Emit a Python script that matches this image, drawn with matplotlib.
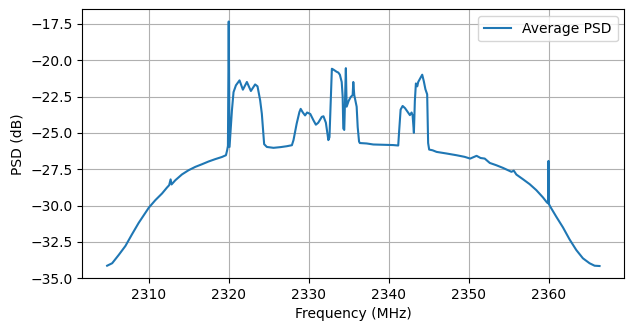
import matplotlib
matplotlib.use('Agg')
from matplotlib import pyplot as plt

# frequency (MHz) and average PSD (dB)
freq = [2304.79, 2305.42, 2306.24, 2307.08, 2307.9, 2308.74, 2309.57, 2310.0, 2310.82,
        2311.66, 2312.28, 2312.55, 2312.73, 2312.85, 2313.32, 2314.15, 2314.98, 2315.82,
        2316.65, 2317.48, 2318.3, 2319.15, 2319.65, 2319.8,
        2319.9, 2320.0, 2320.1, 2320.4, 2320.6, 2320.9, 2321.35, 2321.77,
        2322.27, 2322.77, 2323.3, 2323.6, 2323.93, 2324.14, 2324.43, 2324.77, 2325.6,
        2326.5, 2327.26, 2327.9, 2328.1, 2328.5, 2328.84, 2329.0, 2329.27, 2329.55,
        2329.8, 2330.2, 2330.6, 2330.9, 2331.2, 2331.64, 2331.85, 2332.15, 2332.46,
        2332.6, 2332.76, 2332.9, 2333.1, 2333.5, 2333.7, 2333.9, 2334.13, 2334.25,
        2334.33, 2334.45, 2334.55, 2334.65, 2334.75, 2335.0, 2335.25, 2335.5, 2335.58,
        2335.7, 2336.0, 2336.13, 2336.3, 2336.4, 2337.25, 2338.08, 2339.3, 2340.57,
        2341.2, 2341.3, 2341.5, 2341.75, 2342.05, 2342.3, 2342.66, 2342.87, 2343.0,
        2343.16, 2343.28, 2343.41, 2343.58, 2343.7, 2344.0, 2344.2, 2344.4, 2344.6,
        2344.82, 2344.94, 2345.07, 2345.5, 2346.0, 2347.24, 2348.5, 2349.5, 2350.2,
        2350.5, 2351.0, 2351.5, 2352.02, 2352.65, 2353.48, 2354.3, 2355.36, 2355.65,
        2355.98, 2356.8, 2357.64, 2358.47, 2359.3, 2359.8, 2359.95, 2360.0, 2360.05,
        2360.22, 2360.97, 2361.8, 2362.63, 2363.47, 2364.3, 2365.13, 2365.76, 2366.38]
psd = [-34.14, -33.97, -33.4, -32.78, -31.98, -31.19, -30.5, -30.15, -29.63,
       -29.17, -28.76, -28.6, -28.2, -28.55, -28.26, -27.86, -27.57, -27.34,
       -27.16, -26.97, -26.81, -26.66, -26.54, -26.2,
       -25.9, -17.34, -25.97, -23.45, -22.2, -21.73, -21.39, -22.03,
       -21.5, -22.12, -21.67, -21.8, -22.76, -23.68, -25.78, -25.97, -26.03,
       -25.98, -25.92, -25.85, -25.5, -24.36, -23.57, -23.35, -23.6, -23.8,
       -23.6, -23.7, -24.14, -24.44, -24.3, -23.9, -23.86, -24.3, -25.5,
       -25.3, -22.76, -20.59, -20.65, -20.8, -20.85, -21.0, -21.5, -22.5,
       -24.7, -24.8, -22.8, -20.55, -23.2, -22.8, -22.54, -22.4, -21.5,
       -22.4, -23.2, -24.6, -25.6, -25.7, -25.73, -25.8, -25.82, -25.84,
       -25.87, -25.0, -23.4, -23.15, -23.3, -23.5, -23.78, -23.6, -23.8,
       -25.0, -22.8, -21.6, -21.8, -21.5, -21.2, -21.0, -21.45, -22.0,
       -22.35, -25.7, -26.15, -26.2, -26.31, -26.42, -26.54, -26.65, -26.77,
       -26.7, -26.58, -26.73, -26.77, -27.07, -27.23, -27.41, -27.68, -27.6,
       -27.87, -28.19, -28.53, -28.94, -29.44, -29.79, -29.85, -26.93, -29.9,
       -30.08, -30.77, -31.5, -32.33, -33.06, -33.63, -33.97, -34.14, -34.16]

fig = plt.figure(figsize=(6.34, 3.32), dpi=100)
ax = fig.add_axes([0.130, 0.162, 0.855, 0.810])
ax.plot(freq, psd, label='Average PSD')
ax.set_xlim(2301.7, 2369.5)
ax.set_ylim(-35.0, -16.5)
ax.set_xlabel('Frequency (MHz)')
ax.set_ylabel('PSD (dB)')
ax.grid(True)
ax.legend(loc='upper right')
fig.savefig('out.png', dpi=100)
